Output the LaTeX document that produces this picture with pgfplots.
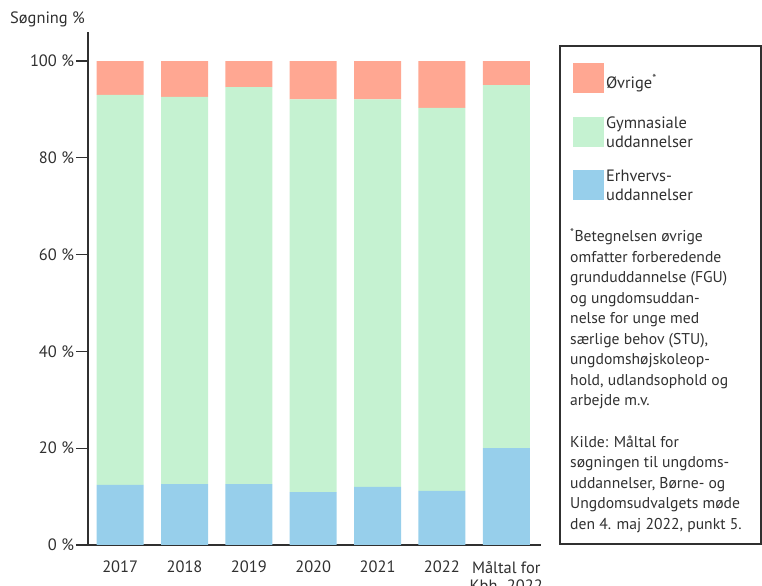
\documentclass[border=0pt]{standalone}
\usepackage{fontspec}
\setmainfont{PT Sans}
\usepackage{pgfplots}
\pgfplotsset{compat=1.18}
\definecolor{ovr}{HTML}{FFA792}
\definecolor{gym}{HTML}{C5F2D1}
\definecolor{erh}{HTML}{97CFEB}
\definecolor{txt}{HTML}{303030}
\pgfplotsset{
  imgone/.style={legend image code/.code={\fill[##1] (0bp,-11bp) rectangle (31bp,19bp);}},
  imgtwo/.style={legend image code/.code={\fill[##1] (0bp,-19bp) rectangle (31bp,11bp);}},
}
\begin{document}
\begin{tikzpicture}
\useasboundingbox (0bp,0bp) rectangle (762bp,586bp);
\begin{axis}[
  at={(88bp,41bp)}, anchor=south west,
  scale only axis, width=453bp, height=513bp,
  xmin=-0.5, xmax=6.54, ymin=0, ymax=106,
  axis x line*=bottom, axis y line*=left,
  axis line style={-, draw=txt, line width=1.3bp},
  ybar stacked, bar width=47bp,
  xtick={0,...,6},
  xticklabels={2017,2018,2019,2020,2021,2022,{Måltal for\\Kbh. 2022}},
  xticklabel style={align=center, anchor=north, yshift=-0.5bp, font=\fontsize{16.5}{18.5}\selectfont},
  x tick style={draw=none},
  ytick={0,20,40,60,80,100},
  yticklabels={0 \%,20 \%,40 \%,60 \%,80 \%,100 \%},
  yticklabel style={xshift=1.5bp},
  tick align=outside, major tick length=12bp,
  y tick style={draw=txt, line width=1.3bp},
  tick label style={font=\fontsize{16.5}{18.5}\selectfont, text=txt},
  reverse legend,
  legend style={at={(1.0706,0.9396)}, anchor=north west, draw=none, fill=none,
    inner sep=0pt, row sep=20bp, font=\fontsize{16.5}{19}\selectfont, text=txt,
    cells={anchor=west}},
]
\addplot[fill=erh, draw=none, imgtwo]
  coordinates {(0,12.4) (1,12.6) (2,12.6) (3,10.95) (4,12.0) (5,11.2) (6,20.0)};
\addplot[fill=gym, draw=none, imgtwo]
  coordinates {(0,80.6) (1,80.0) (2,82.0) (3,81.15) (4,80.1) (5,79.1) (6,75.0)};
\addplot[fill=ovr, draw=none, imgone]
  coordinates {(0,7.0) (1,7.4) (2,5.4) (3,7.9) (4,7.9) (5,9.7) (6,5.0)};
\addlegendentry{\begin{tabular}{@{}l@{}}Erhvervs-\\uddannelser\end{tabular}}
\addlegendentry{\begin{tabular}{@{}l@{}}Gymnasiale\\uddannelser\end{tabular}}
\addlegendentry{\begin{tabular}{@{}l@{}}Øvrige\textsuperscript{*}\rule[-3bp]{0pt}{3bp}\end{tabular}}
\end{axis}
\node[anchor=west, inner sep=0pt, text=txt, font=\fontsize{16.5}{19}\selectfont] at (10bp,567bp) {Søgning \%};
\draw[txt, line width=1.3bp] (560bp,42bp) rectangle (761bp,540bp);
\node[anchor=north west, inner sep=0pt, align=left, text=txt, font=\fontsize{15.7}{20.6}\selectfont] at (570bp,357.5bp) {%
\textsuperscript{*}Betegnelsen øvrige\\
omfatter forberedende\\
grunduddannelse (FGU)\\
og ungdomsuddan-\\
nelse for unge med\\
særlige behov (STU),\\
ungdomshøjskoleop-\\
hold, udlandsophold og\\
arbejde m.v.\\[20.6bp]
Kilde: Måltal for\\
søgningen til ungdoms-\\
uddannelser, Børne- og\\
Ungdomsudvalgets møde\\
den 4. maj 2022, punkt 5.};
\end{tikzpicture}
\end{document}
